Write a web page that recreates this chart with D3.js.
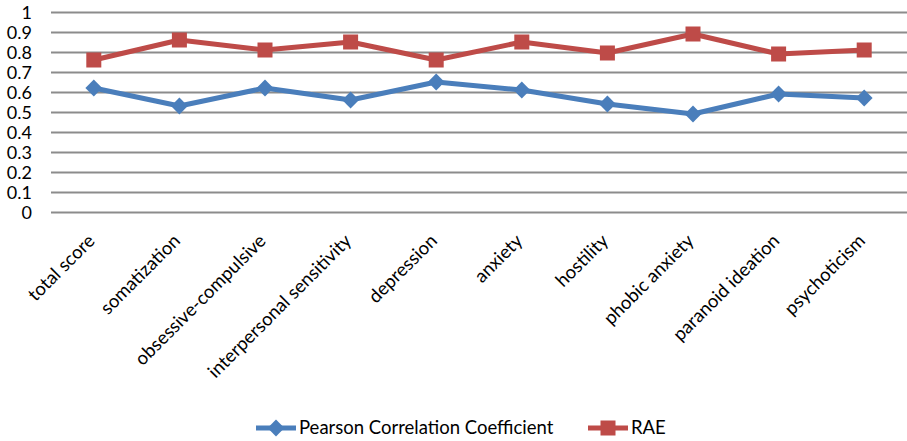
<!DOCTYPE html>
<html>
<head>
<meta charset="utf-8">
<script src="https://cdn.jsdelivr.net/npm/d3@7/dist/d3.min.js"></script>
<style>
  html, body { margin: 0; padding: 0; background: #fff; }
  svg { display: block; }
  text { font-family: Lato, "Open Sans", "Liberation Sans", sans-serif; fill: #000; }
</style>
</head>
<body>
<svg id="chart" width="907" height="441"></svg>
<script>
// SCL-90 factor names along the x axis
const categories = ["total score", "somatization", "obsessive-compulsive", "interpersonal sensitivity",
  "depression", "anxiety", "hostility", "phobic anxiety", "paranoid ideation", "psychoticism"];
const pearsonValues = [0.62, 0.53, 0.62, 0.56, 0.65, 0.61, 0.54, 0.49, 0.59, 0.57];
const raeValues = [0.76, 0.86, 0.81, 0.85, 0.76, 0.85, 0.795, 0.89, 0.79, 0.81];
const yTicks = [0, 0.1, 0.2, 0.3, 0.4, 0.5, 0.6, 0.7, 0.8, 0.9, 1];
const seriesNames = ["Pearson Correlation Coefficient", "RAE"];

const blue = "#4a7ebb", red = "#be4b48";
const svg = d3.select("#chart");
const plotLeft = 51, plotRight = 907, plotTop = 12, plotBottom = 212;

const x = d3.scaleBand().domain(categories).range([plotLeft, plotRight]);
const y = d3.scaleLinear().domain([0, 1]).range([plotBottom, plotTop]);

// horizontal gridlines + y labels
const yAxis = svg.append("g").attr("transform", `translate(${plotLeft},0)`)
  .call(d3.axisLeft(y).tickValues(yTicks).tickSize(-(plotRight - plotLeft)).tickPadding(19)
    .tickFormat(d => d3.format("")(d)));
yAxis.select(".domain").remove();
yAxis.selectAll(".tick line").attr("stroke", "#8c8c8c").attr("stroke-width", 2);
yAxis.selectAll(".tick text").style("font-size", "18px").attr("dy", "0.35em");

// rotated category labels
const xAxis = svg.append("g").attr("transform", `translate(0,${plotBottom})`)
  .call(d3.axisBottom(x).tickSize(0).tickPadding(0));
xAxis.select(".domain").remove();
xAxis.selectAll(".tick text")
  .style("font-size", "18.5px")
  .attr("text-anchor", "end")
  .attr("y", 0)
  .attr("dy", "0")
  .attr("transform", "translate(2,30) rotate(-45)");

const line = d3.line().x((d, i) => x(categories[i]) + x.bandwidth() / 2).y(d => y(d));
const diamond = d3.symbol().type(d3.symbolDiamond2).size(180);

function drawSeries(values, color, markerFn) {
  svg.append("path").datum(values).attr("d", line)
    .attr("fill", "none").attr("stroke", color).attr("stroke-width", 5)
    .attr("stroke-linejoin", "round");
  const g = svg.append("g");
  values.forEach((v, i) => markerFn(g, x(categories[i]) + x.bandwidth() / 2, y(v), color));
}
function diamondMarker(g, cx, cy, color) {
  g.append("path").attr("d", diamond).attr("transform", `translate(${cx},${cy})`).attr("fill", color);
}
function squareMarker(g, cx, cy, color) {
  g.append("rect").attr("x", cx - 7.5).attr("y", cy - 7.5).attr("width", 15).attr("height", 15).attr("fill", color);
}

drawSeries(pearsonValues, blue, diamondMarker);
drawSeries(raeValues, red, squareMarker);

// legend
const legendY = 428;
const legendItems = [
  { name: seriesNames[0], color: blue, marker: diamondMarker, x0: 256 },
  { name: seriesNames[1], color: red, marker: squareMarker, x0: 588 }
];
legendItems.forEach(it => {
  svg.append("line").attr("x1", it.x0).attr("x2", it.x0 + 40).attr("y1", legendY).attr("y2", legendY)
    .attr("stroke", it.color).attr("stroke-width", 5);
  it.marker(svg, it.x0 + 20, legendY, it.color);
  svg.append("text").attr("x", it.x0 + 43).attr("y", legendY).attr("dy", "0.35em")
    .style("font-size", "18.5px").text(it.name);
});
</script>
</body>
</html>
